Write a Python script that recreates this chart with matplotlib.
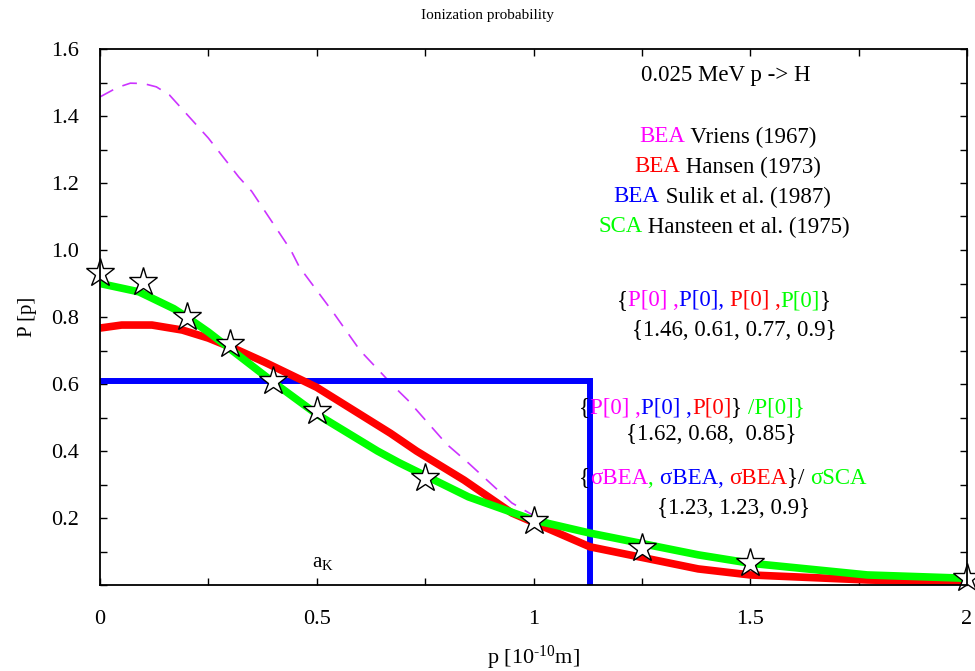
import numpy as np
import matplotlib
matplotlib.use("Agg")
import matplotlib.pyplot as plt
from matplotlib.transforms import IdentityTransform
from matplotlib.ticker import MultipleLocator

plt.rcParams['font.family'] = ['Liberation Serif', 'DejaVu Serif']
plt.rcParams['mathtext.fontset'] = 'custom'
plt.rcParams['mathtext.rm'] = 'Liberation Serif'
plt.rcParams['mathtext.it'] = 'Liberation Serif:italic'

# SCA Hansteen et al. (1975)
sca_x = [0, 0.09, 0.17, 0.2, 0.25, 0.3, 0.35, 0.4, 0.5, 0.64, 0.69, 0.85, 1.0, 1.13, 1.38, 1.5, 1.77, 2.0]
sca_y = [0.90, 0.875, 0.825, 0.80, 0.755, 0.705, 0.655, 0.605, 0.51, 0.40, 0.365, 0.263, 0.194, 0.155, 0.09, 0.065, 0.03, 0.02]

# BEA Hansen (1973)
han_x = [0, 0.05, 0.12, 0.19, 0.25, 0.32, 0.38, 0.5, 0.67, 0.73, 0.84, 0.95, 1.13, 1.38, 1.5, 1.77, 2.0]
han_y = [0.767, 0.776, 0.776, 0.761, 0.737, 0.70, 0.665, 0.59, 0.453, 0.40, 0.313, 0.215, 0.114, 0.048, 0.03, 0.015, 0.008]

# BEA Vriens (1967)
vri_x = [0, 0.04, 0.07, 0.1, 0.13, 0.16, 0.19, 0.25, 0.32, 0.35, 0.44, 0.46, 0.54, 0.6, 0.68, 0.71, 0.80, 0.85, 0.95, 1.07]
vri_y = [1.457, 1.485, 1.498, 1.497, 1.487, 1.463, 1.42, 1.334, 1.218, 1.175, 1.0, 0.949, 0.81, 0.70, 0.59, 0.552, 0.42, 0.364, 0.245, 0.155]

# BEA Sulik et al. (1987)
sul_x = [0, 1.13, 1.13]
sul_y = [0.61, 0.61, 0.0]

# stars
star_x = [0, 0.1, 0.2, 0.3, 0.4, 0.5, 0.75, 1.0, 1.25, 1.5, 2.0]
star_y = [0.93, 0.905, 0.80, 0.72, 0.61, 0.52, 0.32, 0.19, 0.11, 0.065, 0.02]

xtick_vals = [0, 0.5, 1, 1.5, 2]
xtick_text = ['0', '0.5', '1', '1.5', '2']
ytick_vals = [0.2, 0.4, 0.6, 0.8, 1.0, 1.2, 1.4, 1.6]
ytick_text = ['0.2', '0.4', '0.6', '0.8', '1.0', '1.2', '1.4', '1.6']

fig = plt.figure(figsize=(9.75, 6.71), dpi=100)
ax = fig.add_axes([100/975, 86/671, 867/975, 536/671])

ax.plot(vri_x, vri_y, color='#cc33ff', lw=1.2, dashes=(9, 6))
ax.plot(sul_x, sul_y, color='#0000ff', lw=4.3, solid_joinstyle='miter')
ax.plot(han_x, han_y, color='#ff0000', lw=5.5, solid_capstyle='butt')
ax.plot(sca_x, sca_y, color='#00ff00', lw=5.5, solid_capstyle='butt')
ax.plot(star_x, star_y, ls='none', marker='*', ms=21, mfc='white', mec='black', mew=1.0, clip_on=False)

ax.set_xlim(0, 2)
ax.set_ylim(0, 1.6)
ax.set_xticks(xtick_vals)
ax.set_xticklabels(xtick_text)
ax.xaxis.set_minor_locator(MultipleLocator(0.25))
ax.set_yticks(ytick_vals)
ax.set_yticklabels(ytick_text)
ax.yaxis.set_minor_locator(MultipleLocator(0.1))
ax.tick_params(which='both', direction='in', length=5, width=1, top=True, right=True, labelsize=16)
ax.tick_params(axis='x', pad=18)
ax.tick_params(axis='y', pad=15)
for s in ax.spines.values():
    s.set_linewidth(1.3)

ax.set_xlabel(r'p [10$^{\text{-10}}$m]', fontsize=16, labelpad=11)
ax.set_ylabel('P [p]', fontsize=15, labelpad=10)
fig.text(0.5, 1 - 15/671, 'Ionization probability', ha='center', va='center', fontsize=11)

ax.text(323, 671 - 562, r'a$_{\rm K}$', transform=IdentityTransform(), ha='center', va='center', fontsize=15)

renderer = fig.canvas.get_renderer()


def colored(xc, yc, parts, size=16.5):
    items = []
    total = 0
    for s, c in parts:
        t = fig.text(0, 0, s, color=c, fontsize=size, transform=IdentityTransform(), va='center', ha='left')
        w = t.get_window_extent(renderer).width
        items.append((t, w))
        total += w
    x = xc - total / 2
    for t, w in items:
        t.set_position((x, 671 - yc))
        x += w


K = 'black'
M = '#ff00ff'
R = '#ff0000'
B = '#0000ff'
G = '#00ff00'

colored(726, 76, [('0.025 MeV p -> H', K)])
colored(728, 137, [('BEA', M), (' Vriens (1967)', K)])
colored(728, 167, [('BEA', R), (' Hansen (1973)', K)])
colored(722, 197, [('BEA', B), (' Sulik et al. (1987)', K)])
colored(724, 227, [('SCA', G), (' Hansteen et al. (1975)', K)])
colored(724, 301, [('{', K), ('P[0] ,', M), ('P[0], ', B), ('P[0] ,', R), ('P[0]', G), ('}', K)])
colored(734, 330, [('{1.46, 0.61, 0.77, 0.9}', K)])
colored(692, 408, [('{', K), ('P[0] ,', M), ('P[0] ,', B), ('P[0]', R), ('} ', K), ('/P[0]}', G)])
colored(711, 435, [('{1.62, 0.68,  0.85}', K)])
colored(723, 478, [('{', K), ('σBEA', M), (', ', G), ('σBEA, ', B), ('σBEA', R), ('}/ ', K), ('σSCA', G)])
colored(734, 508, [('{1.23, 1.23, 0.9}', K)])

fig.savefig('out.png', dpi=100)
